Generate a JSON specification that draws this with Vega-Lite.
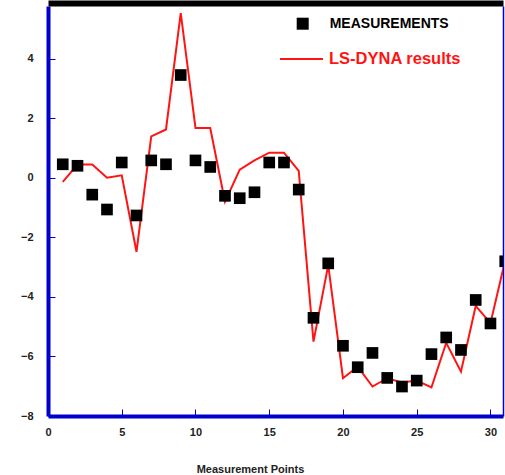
{
  "$schema": "https://vega.github.io/schema/vega-lite/v6.json",
  "width": 455,
  "height": 410,
  "autosize": {"type": "none"},
  "padding": {"left": 48, "top": 6, "right": 2, "bottom": 59},
  "background": "white",
  "config": {"view": {"stroke": null}, "font": "Liberation Sans"},
  "datasets": {
    "meas": [
      {"pt": 1, "val": 0.46, "series": "MEASUREMENTS"},
      {"pt": 2, "val": 0.41, "series": "MEASUREMENTS"},
      {"pt": 3, "val": -0.56, "series": "MEASUREMENTS"},
      {"pt": 4, "val": -1.06, "series": "MEASUREMENTS"},
      {"pt": 5, "val": 0.52, "series": "MEASUREMENTS"},
      {"pt": 6, "val": -1.26, "series": "MEASUREMENTS"},
      {"pt": 7, "val": 0.59, "series": "MEASUREMENTS"},
      {"pt": 8, "val": 0.46, "series": "MEASUREMENTS"},
      {"pt": 9, "val": 3.46, "series": "MEASUREMENTS"},
      {"pt": 10, "val": 0.59, "series": "MEASUREMENTS"},
      {"pt": 11, "val": 0.37, "series": "MEASUREMENTS"},
      {"pt": 12, "val": -0.6, "series": "MEASUREMENTS"},
      {"pt": 13, "val": -0.68, "series": "MEASUREMENTS"},
      {"pt": 14, "val": -0.48, "series": "MEASUREMENTS"},
      {"pt": 15, "val": 0.52, "series": "MEASUREMENTS"},
      {"pt": 16, "val": 0.52, "series": "MEASUREMENTS"},
      {"pt": 17, "val": -0.39, "series": "MEASUREMENTS"},
      {"pt": 18, "val": -4.7, "series": "MEASUREMENTS"},
      {"pt": 19, "val": -2.87, "series": "MEASUREMENTS"},
      {"pt": 20, "val": -5.64, "series": "MEASUREMENTS"},
      {"pt": 21, "val": -6.36, "series": "MEASUREMENTS"},
      {"pt": 22, "val": -5.88, "series": "MEASUREMENTS"},
      {"pt": 23, "val": -6.72, "series": "MEASUREMENTS"},
      {"pt": 24, "val": -7.01, "series": "MEASUREMENTS"},
      {"pt": 25, "val": -6.81, "series": "MEASUREMENTS"},
      {"pt": 26, "val": -5.92, "series": "MEASUREMENTS"},
      {"pt": 27, "val": -5.36, "series": "MEASUREMENTS"},
      {"pt": 28, "val": -5.78, "series": "MEASUREMENTS"},
      {"pt": 29, "val": -4.1, "series": "MEASUREMENTS"},
      {"pt": 30, "val": -4.89, "series": "MEASUREMENTS"},
      {"pt": 31, "val": -2.8, "series": "MEASUREMENTS"}
    ],
    "sim": [
      {"pt": 1, "val": -0.13, "series": "LS-DYNA results"},
      {"pt": 2, "val": 0.45, "series": "LS-DYNA results"},
      {"pt": 3, "val": 0.45, "series": "LS-DYNA results"},
      {"pt": 4, "val": 0.01, "series": "LS-DYNA results"},
      {"pt": 5, "val": 0.09, "series": "LS-DYNA results"},
      {"pt": 6, "val": -2.48, "series": "LS-DYNA results"},
      {"pt": 7, "val": 1.4, "series": "LS-DYNA results"},
      {"pt": 8, "val": 1.63, "series": "LS-DYNA results"},
      {"pt": 9, "val": 5.54, "series": "LS-DYNA results"},
      {"pt": 10, "val": 1.68, "series": "LS-DYNA results"},
      {"pt": 11, "val": 1.68, "series": "LS-DYNA results"},
      {"pt": 12, "val": -0.8, "series": "LS-DYNA results"},
      {"pt": 13, "val": 0.28, "series": "LS-DYNA results"},
      {"pt": 14, "val": 0.59, "series": "LS-DYNA results"},
      {"pt": 15, "val": 0.85, "series": "LS-DYNA results"},
      {"pt": 16, "val": 0.85, "series": "LS-DYNA results"},
      {"pt": 17, "val": 0.24, "series": "LS-DYNA results"},
      {"pt": 18, "val": -5.5, "series": "LS-DYNA results"},
      {"pt": 19, "val": -2.93, "series": "LS-DYNA results"},
      {"pt": 20, "val": -6.73, "series": "LS-DYNA results"},
      {"pt": 21, "val": -6.34, "series": "LS-DYNA results"},
      {"pt": 22, "val": -7.01, "series": "LS-DYNA results"},
      {"pt": 23, "val": -6.73, "series": "LS-DYNA results"},
      {"pt": 24, "val": -6.87, "series": "LS-DYNA results"},
      {"pt": 25, "val": -6.81, "series": "LS-DYNA results"},
      {"pt": 26, "val": -7.04, "series": "LS-DYNA results"},
      {"pt": 27, "val": -5.54, "series": "LS-DYNA results"},
      {"pt": 28, "val": -6.51, "series": "LS-DYNA results"},
      {"pt": 29, "val": -4.3, "series": "LS-DYNA results"},
      {"pt": 30, "val": -4.88, "series": "LS-DYNA results"},
      {"pt": 31, "val": -2.76, "series": "LS-DYNA results"}
    ]
  },
  "layer": [
    {
      "data": {"name": "sim"},
      "mark": {"type": "line", "strokeWidth": 2, "clip": true},
      "encoding": {
        "x": {
          "field": "pt", "type": "quantitative",
          "scale": {"domain": [0, 30.85], "nice": false, "zero": false},
          "axis": {"orient": "top", "domainColor": "black", "domainWidth": 6, "offset": 3, "ticks": false, "labels": false, "title": null, "grid": false}
        },
        "y": {
          "field": "val", "type": "quantitative",
          "scale": {"domain": [-8, 5.78], "nice": false, "zero": false},
          "axis": {"orient": "right", "domainColor": "#0000cc", "domainWidth": 1.5, "ticks": false, "labels": false, "title": null, "grid": false}
        },
        "color": {
          "field": "series", "type": "nominal",
          "scale": {"range": ["#ff1414"]},
          "legend": {
            "orient": "none", "legendX": 231, "legendY": 30.5, "title": null, "padding": 0,
            "symbolType": "stroke", "symbolSize": 1849, "symbolStrokeWidth": 2, "symbolStrokeColor": "#ff1414",
            "labelColor": "#ff1414", "labelFontSize": 16.5, "labelFontWeight": "bold", "labelOffset": 5, "labelFont": "Liberation Sans"
          }
        }
      }
    },
    {
      "data": {"name": "meas"},
      "mark": {"type": "point", "shape": "square", "filled": true, "color": "black", "size": 136, "opacity": 1, "clip": true},
      "encoding": {
        "x": {
          "field": "pt", "type": "quantitative",
          "axis": {
            "orient": "bottom", "values": [0, 5, 10, 15, 20, 25, 30],
            "domainColor": "#0000cc", "domainWidth": 4, "tickColor": "#0000cc", "tickSize": -7, "tickWidth": 1,
            "labelPadding": 17, "labelFontSize": 11, "labelFontWeight": "bold", "labelColor": "#222222", "labelFlush": false,
            "grid": false, "title": "Measurement Points", "titleFontSize": 11, "titleFontWeight": "bold", "titleColor": "#222222",
            "titleX": 202, "titleY": 53, "titleAlign": "center", "titleBaseline": "middle", "titleAnchor": null
          }
        },
        "y": {
          "field": "val", "type": "quantitative",
          "axis": {
            "orient": "left", "values": [-8, -6, -4, -2, 0, 2, 4],
            "domainColor": "#0000cc", "domainWidth": 4, "tickColor": "#0000cc", "tickSize": -7, "tickWidth": 1,
            "labelPadding": 22, "labelFontSize": 11, "labelFontWeight": "bold", "labelColor": "#222222", "labelFlush": false,
            "grid": false, "title": null
          }
        },
        "shape": {
          "field": "series", "type": "nominal",
          "scale": {"range": ["square"]},
          "legend": {
            "orient": "none", "legendX": 247.7, "legendY": 10.7, "title": null, "padding": 0,
            "symbolSize": 144, "symbolFillColor": "black", "symbolStrokeColor": "black", "symbolStrokeWidth": 0, "symbolOpacity": 1,
            "labelColor": "black", "labelFontSize": 14, "labelFontWeight": "bold", "labelOffset": 20, "labelFont": "Liberation Sans"
          }
        }
      }
    }
  ],
  "resolve": {"axis": {"x": "independent", "y": "independent"}}
}
